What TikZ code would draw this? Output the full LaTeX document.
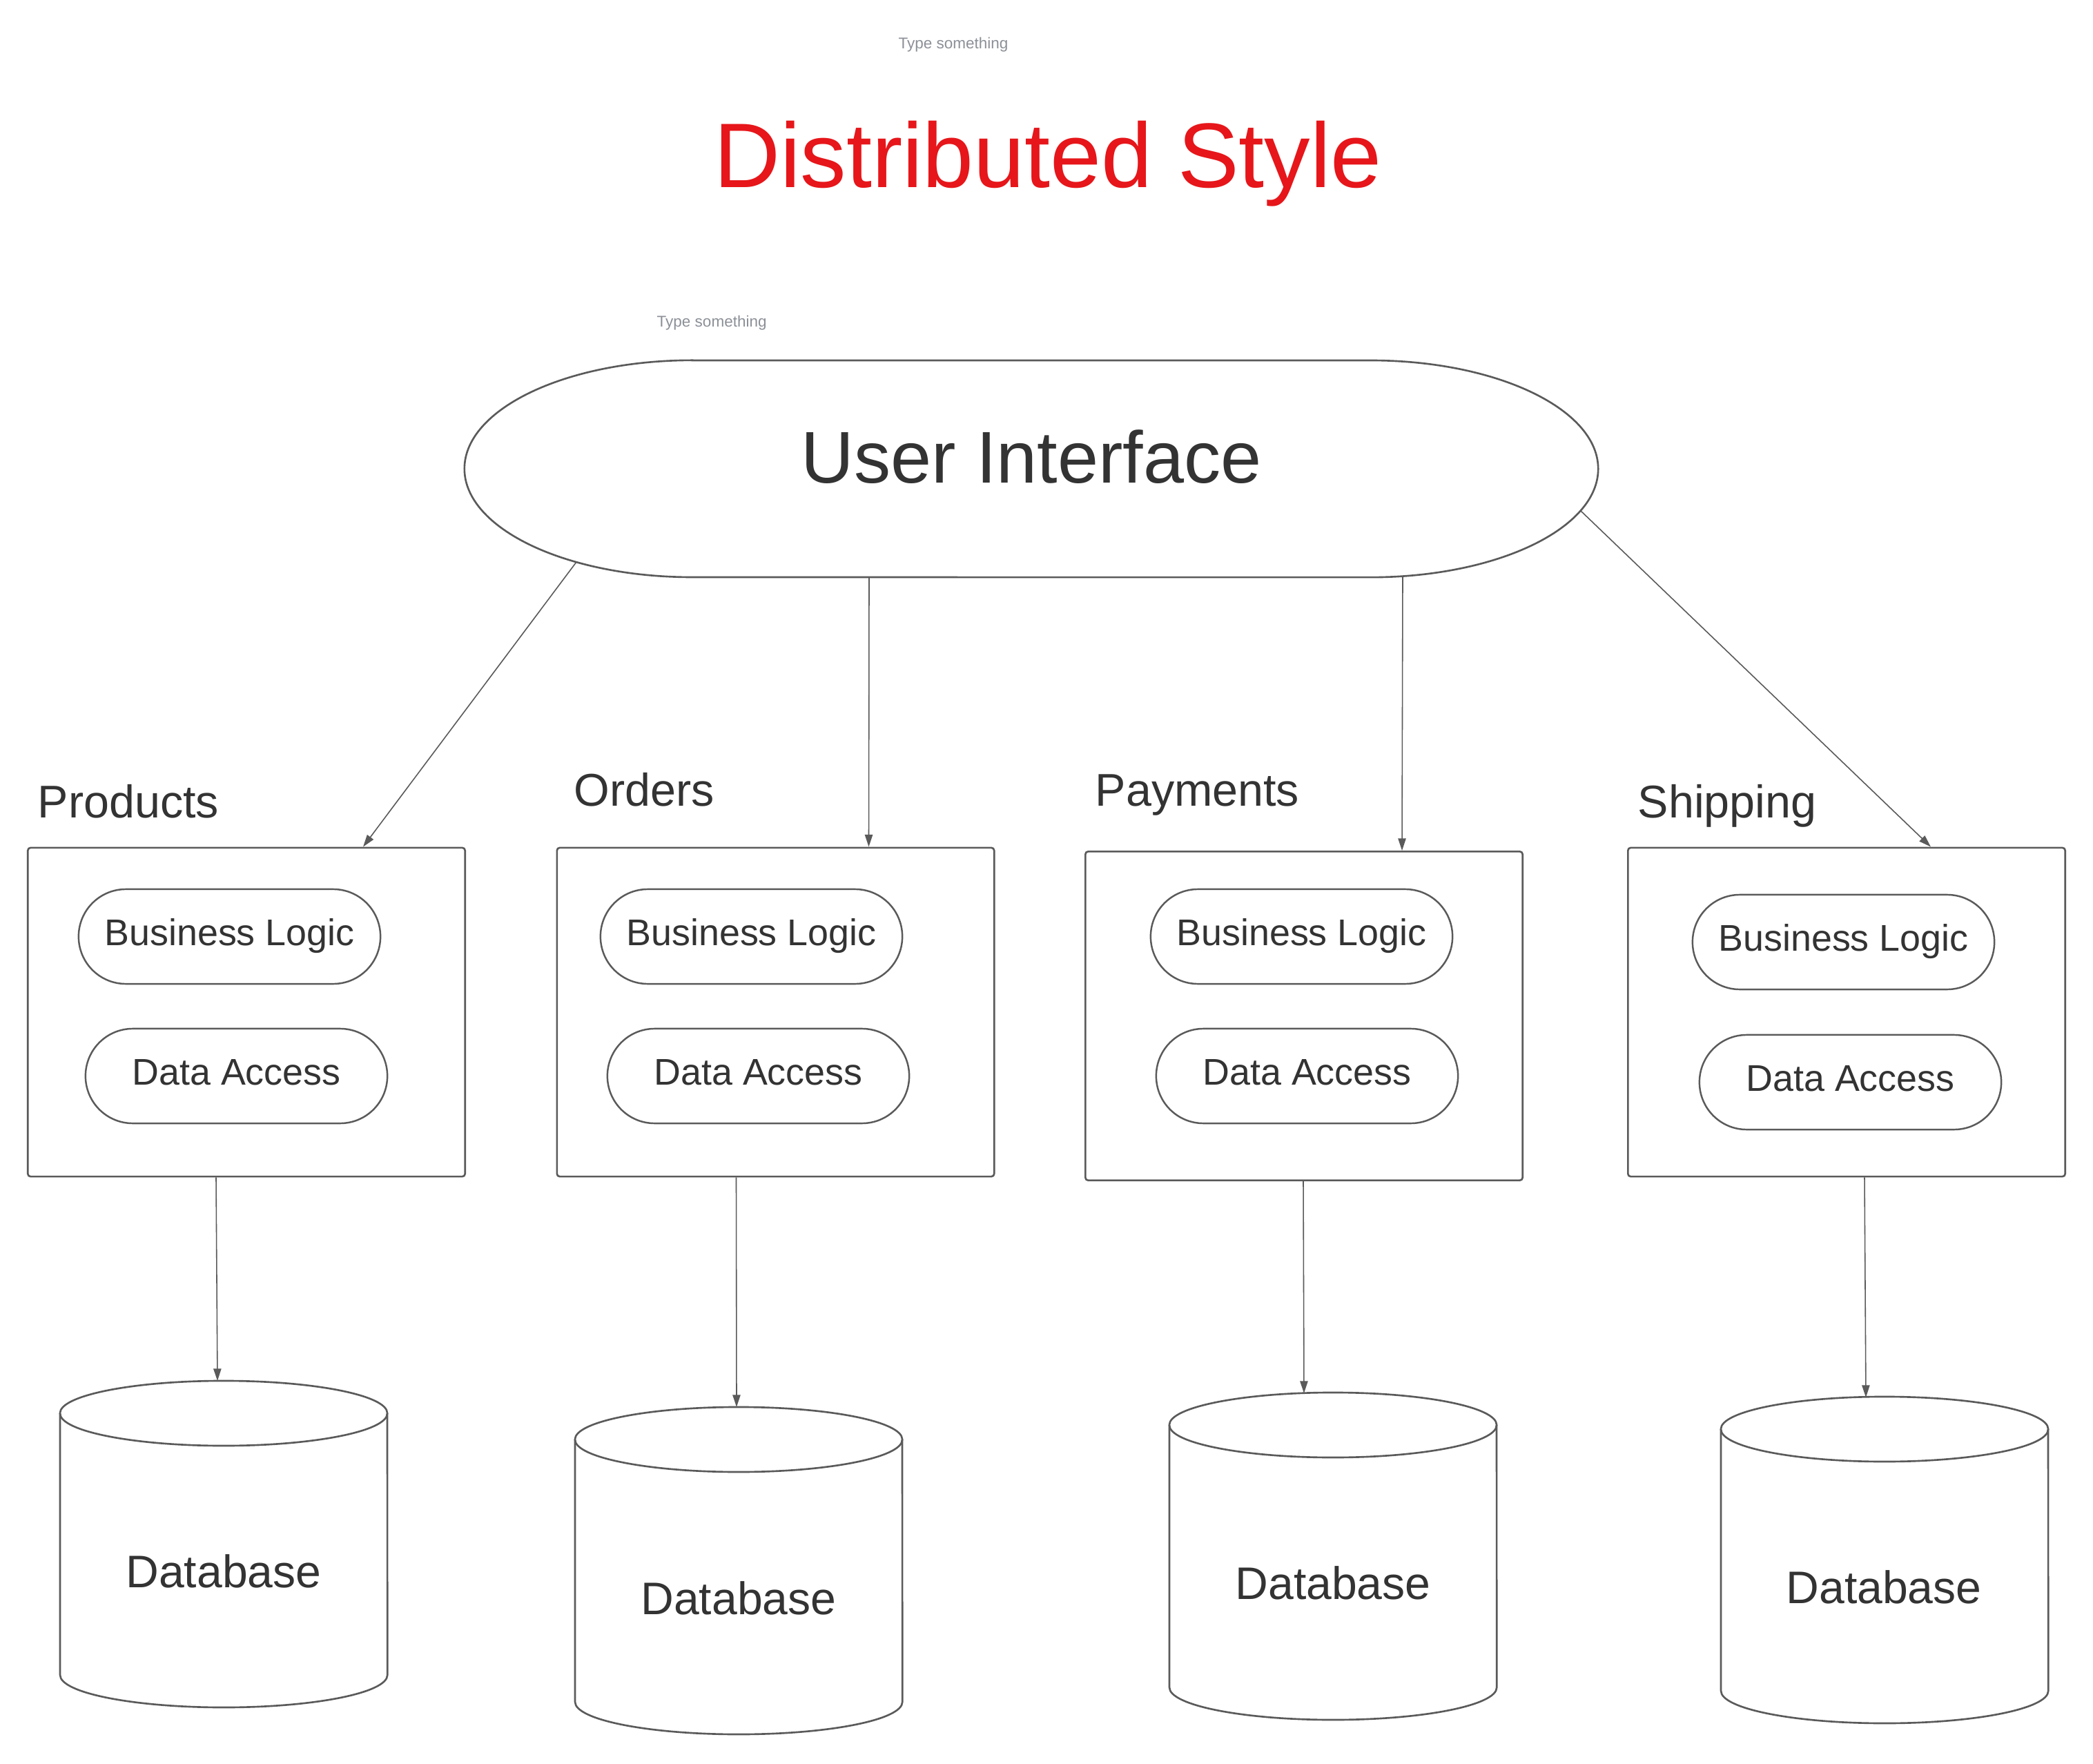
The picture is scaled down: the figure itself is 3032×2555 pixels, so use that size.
\documentclass[tikz,border=0pt]{standalone}
\usepackage{fontspec}
\setmainfont{Liberation Sans}
\usetikzlibrary{arrows.meta,calc}
\definecolor{lc}{HTML}{5A5A5A}
\definecolor{tc}{HTML}{333333}
\definecolor{redt}{HTML}{E6161A}
\definecolor{gt}{HTML}{8C9097}
\begin{document}
\begin{tikzpicture}[x=0.01cm,y=-0.01cm,
 box/.style={draw=lc,line width=0.75pt,rounded corners=0.04cm,minimum width=6.33cm,minimum height=4.76cm,inner sep=0},
 pill/.style={draw=lc,line width=0.7pt,rounded corners=0.684cm,minimum width=4.37cm,minimum height=1.37cm,inner sep=0,text=tc,font=\fontsize{15.3pt}{16pt}\selectfont,text height=0.26cm,text depth=0cm},
 lbl/.style={anchor=base west,inner sep=0,text=tc,font=\fontsize{18.9pt}{20pt}\selectfont},
 dbtxt/.style={anchor=base,inner sep=0,text=tc,font=\fontsize{18.8pt}{20pt}\selectfont},
 arr/.style={draw=lc,line width=0.45pt,-{Triangle[length=5pt,width=3.2pt]}},
 shp/.style={draw=lc,line width=0.75pt},
 hint/.style={inner sep=0,text=gt,font=\fontsize{6.4pt}{7pt}\selectfont}
]
\useasboundingbox[fill=white] (0,0) rectangle (3032,2555);

% headings
\node[hint,anchor=base] (hint1) at (1381,71) {Type something};
\node[anchor=base,inner sep=0,text=redt,font=\fontsize{37.8pt}{40pt}\selectfont] (title) at (1518,272) {Distributed Style};
\node[hint,anchor=base west] (hint2) at (951,474) {Type something};

% user interface
\draw[shp] (1003,522) -- (1985,522) arc[start angle=90,end angle=-90,x radius=3.3cm,y radius=1.57cm]
  -- (1003,836) arc[start angle=270,end angle=90,x radius=3.3cm,y radius=1.57cm] -- cycle;
\node[anchor=base,inner sep=0,text=tc,font=\fontsize{30.2pt}{32pt}\selectfont] (ui) at (1494,700) {User Interface};
\coordinate (uiA) at (835,814);
\coordinate (uiB) at (1259,836);
\coordinate (uiC) at (2032,835);
\coordinate (uiD) at (2290,740);

% section labels
\node[lbl] (lp) at (54,1184) {Products};
\node[lbl] (lo) at (831,1167) {Orders};
\node[lbl] (lpay) at (1586,1167) {Payments};
\node[lbl] (ls) at (2372,1185) {Shipping};

% boxes
\node[box] (pbox) at (357,1466) {};
\node[box] (obox) at (1123.5,1466) {};
\node[box] (paybox) at (1889,1471.5) {};
\node[box] (sbox) at (2675,1466) {};

% pills
\node[pill] (pbl) at (332.5,1356.5) {Business Logic};
\node[pill] (pda) at (342.5,1558.5) {Data Access};
\node[pill] (obl) at (1088.5,1356.5) {Business Logic};
\node[pill] (oda) at (1098.5,1558.5) {Data Access};
\node[pill] (paybl) at (1885.5,1356.5) {Business Logic};
\node[pill] (payda) at (1893.5,1558.5) {Data Access};
\node[pill] (sbl) at (2670.5,1364.5) {Business Logic};
\node[pill] (sda) at (2680.5,1567.5) {Data Access};

% databases
\foreach \L/\T/\B in {87/2000/2473, 833/2038/2512, 1694/2017/2491, 2493/2023/2496}{
  \draw[shp] ({\L+237},{\T+47}) ellipse[x radius=2.37cm,y radius=0.47cm];
  \draw[shp] (\L,{\T+47}) -- (\L,{\B-47}) arc[start angle=180,end angle=360,x radius=2.37cm,y radius=0.47cm] -- ({\L+474},{\T+47});
}
\node[dbtxt] (db1) at (324,2299) {Database};
\node[dbtxt] (db2) at (1070,2338) {Database};
\node[dbtxt] (db3) at (1931,2316) {Database};
\node[dbtxt] (db4) at (2729,2322) {Database};

% connector end points
\coordinate (pIn) at ($(pbox.north west)+(487,0)$);
\coordinate (oIn) at ($(obox.north west)+(453,0)$);
\coordinate (payIn) at ($(paybox.north west)+(460,0)$);
\coordinate (sIn) at ($(sbox.north west)+(440,0)$);
\coordinate (pOut) at ($(pbox.south west)+(274,0)$);
\coordinate (oOut) at ($(obox.south west)+(261,0)$);
\coordinate (payOut) at ($(paybox.south west)+(317,0)$);
\coordinate (sOut) at ($(sbox.south west)+(344,0)$);
\coordinate (d1top) at (315,2000);
\coordinate (d2top) at (1067,2038);
\coordinate (d3top) at (1889,2018);
\coordinate (d4top) at (2703,2024);

% connectors
\draw[arr] (uiA) -- (pIn);
\draw[arr] (uiB) -- (oIn);
\draw[arr] (uiC) -- (payIn);
\draw[arr] (uiD) -- (sIn);
\draw[arr] (pOut) -- (d1top);
\draw[arr] (oOut) -- (d2top);
\draw[arr] (payOut) -- (d3top);
\draw[arr] (sOut) -- (d4top);
\end{tikzpicture}
\end{document}
